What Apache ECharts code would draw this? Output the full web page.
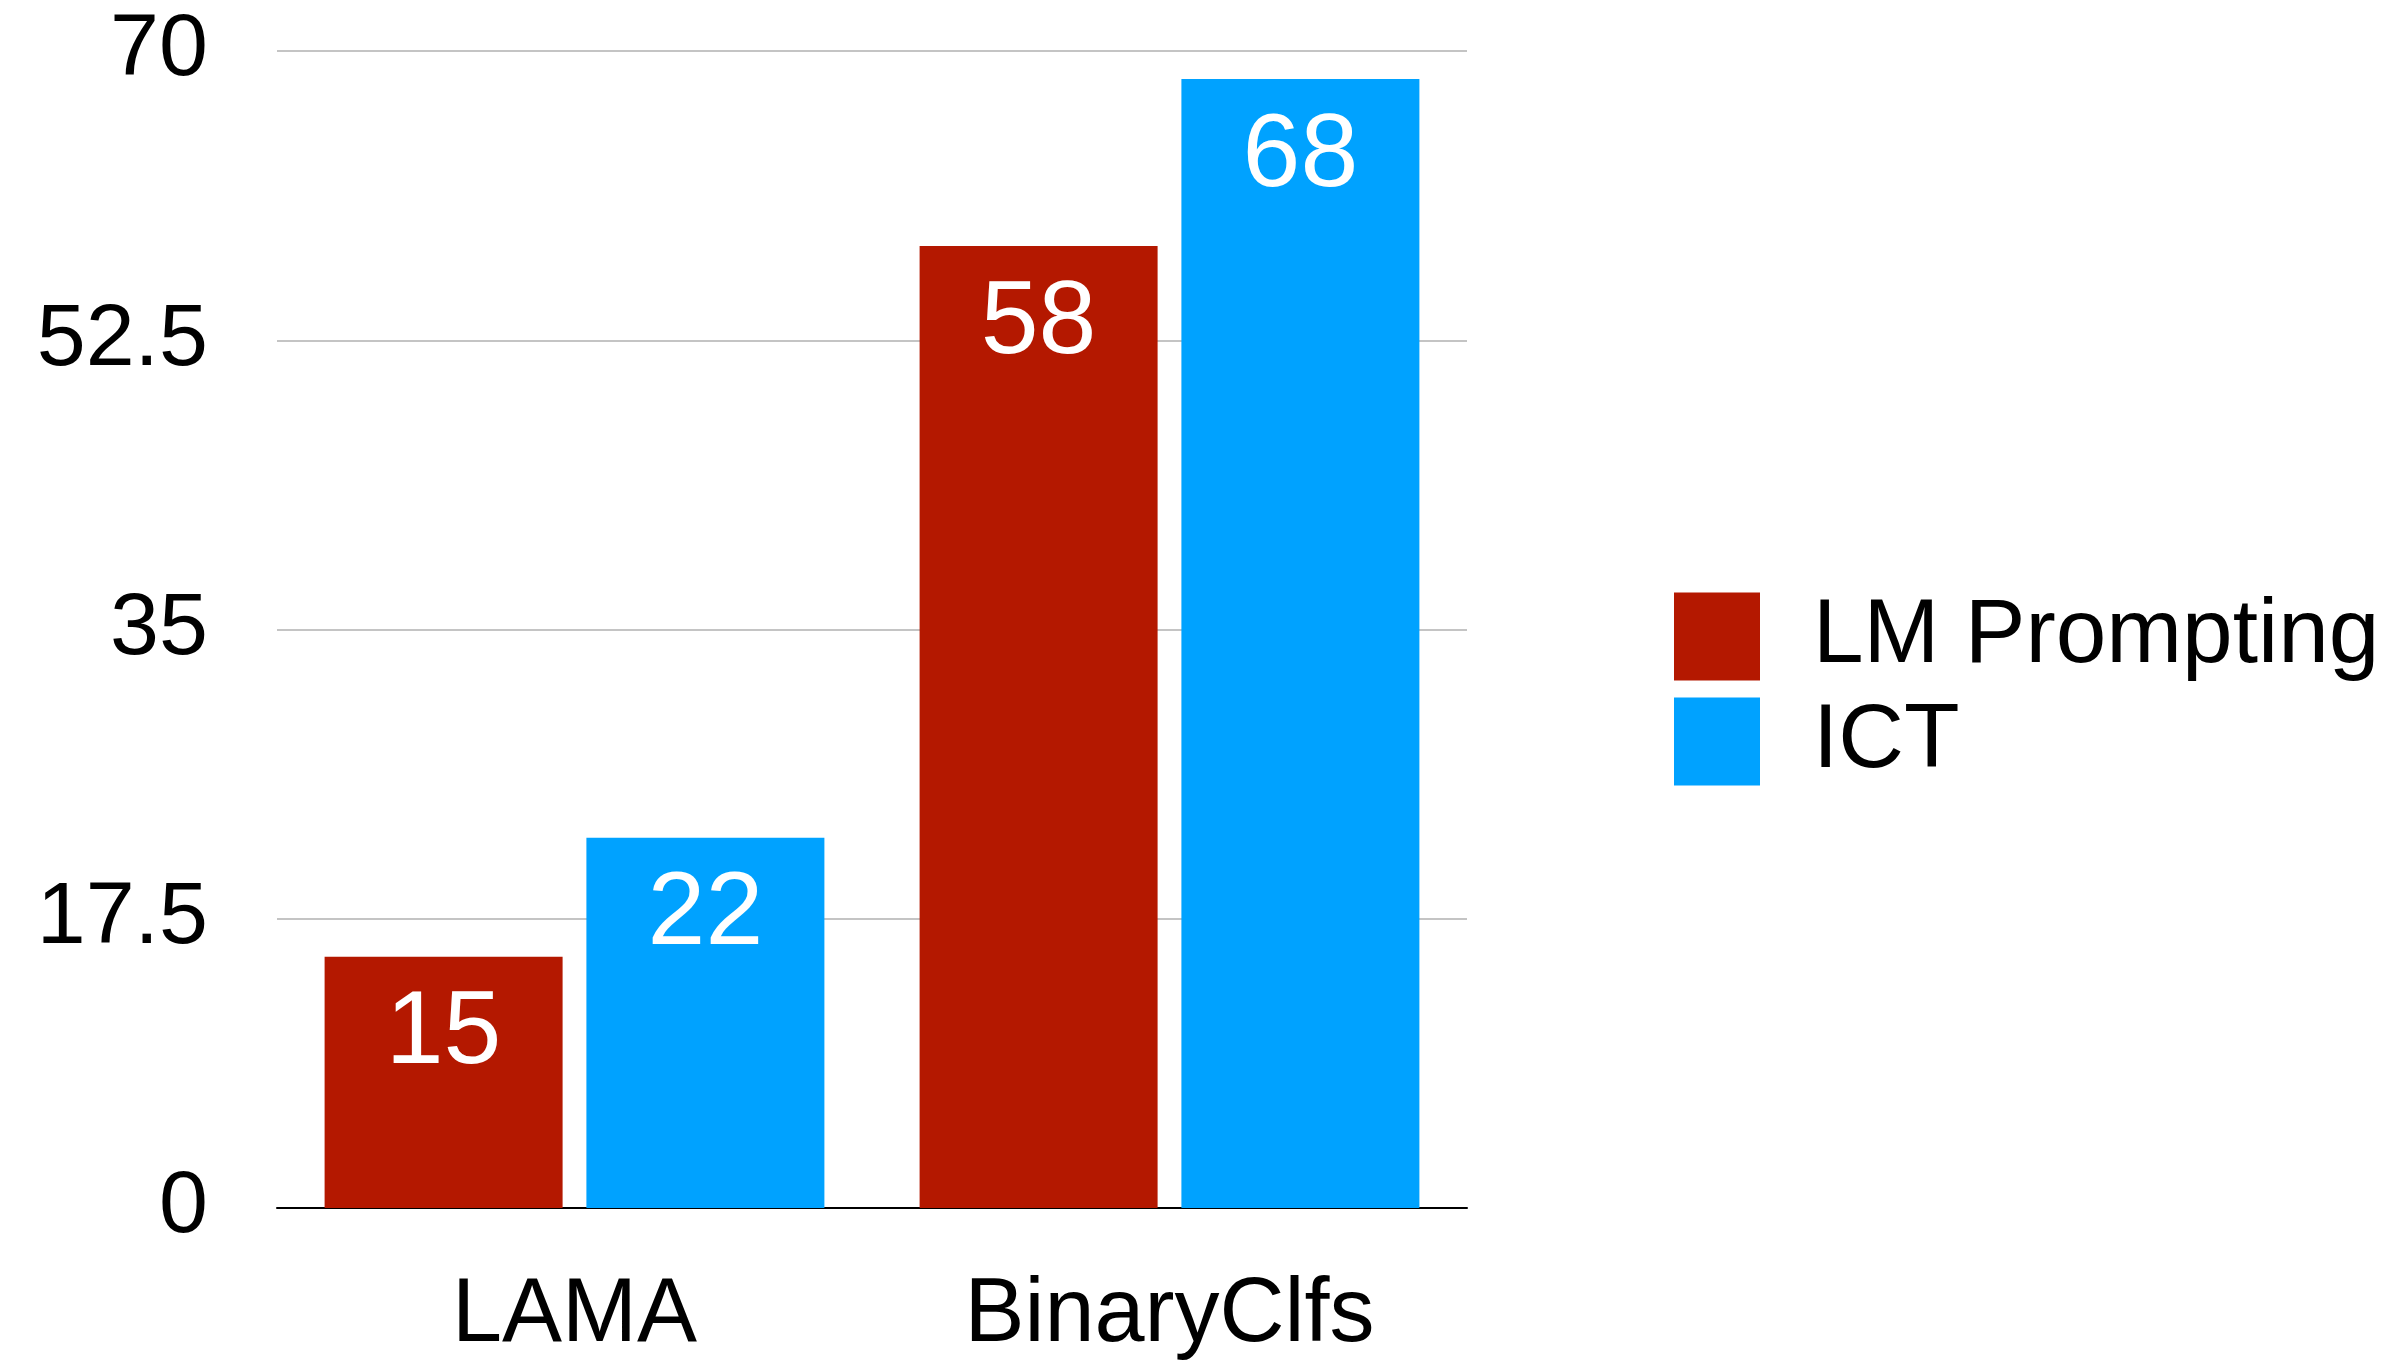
<!DOCTYPE html>
<html>
<head>
<meta charset="utf-8">
<script src="https://cdn.jsdelivr.net/npm/echarts@6/dist/echarts.min.js"></script>
<style>
  html, body { margin: 0; padding: 0; background: #ffffff; }
  #chart { width: 2408px; height: 1361px; }
</style>
</head>
<body>
<div id="chart"></div>
<script>
var categories = ['LAMA', 'BinaryClfs'];
var seriesNames = ['LM Prompting', 'ICT'];
var lmPrompting = [15.2, 58.2];
var ict = [22.4, 68.3];
var yTicks = [0, 17.5, 35, 52.5, 70];

var FONT = "'Liberation Sans', Arial, Helvetica, sans-serif";
var RED = '#B41800';
var BLUE = '#00A2FF';

var chart = echarts.init(document.getElementById('chart'), null, { renderer: 'canvas' });

function barLabel() {
  return {
    show: true,
    position: 'insideTop',
    distance: 26,
    color: '#ffffff',
    fontFamily: FONT,
    fontSize: 104,
    formatter: function (p) { return Math.round(p.value); }
  };
}

chart.setOption({
  backgroundColor: '#ffffff',
  animation: false,
  grid: { left: 277, right: 941, top: 51, bottom: 153 },
  legend: {
    orient: 'vertical',
    left: 1674,
    top: 591,
    padding: 0,
    icon: 'rect',
    itemWidth: 86,
    itemHeight: 88,
    itemGap: 14,
    textStyle: { fontFamily: FONT, fontSize: 91, color: '#000000', lineHeight: 88, padding: [0, 0, 0, 48] },
    data: seriesNames
  },
  xAxis: {
    type: 'category',
    data: categories,
    axisLine: { show: true, lineStyle: { color: '#000000', width: 2 } },
    axisTick: { show: false },
    axisLabel: { fontFamily: FONT, fontSize: 90, color: '#000000', margin: 63 }
  },
  yAxis: {
    type: 'value',
    min: yTicks[0],
    max: yTicks[yTicks.length - 1],
    interval: yTicks[1] - yTicks[0],
    axisLine: { show: false },
    axisTick: { show: false },
    splitLine: { show: true, lineStyle: { color: '#c4c4c4', width: 2 } },
    axisLabel: { fontFamily: FONT, fontSize: 88, color: '#000000', margin: 69 }
  },
  series: [
    {
      name: seriesNames[0],
      type: 'bar',
      data: lmPrompting,
      barWidth: '40%',
      barGap: '10%',
      itemStyle: { color: RED },
      label: barLabel()
    },
    {
      name: seriesNames[1],
      type: 'bar',
      data: ict,
      barWidth: '40%',
      barGap: '10%',
      itemStyle: { color: BLUE },
      label: barLabel()
    }
  ]
});
</script>
</body>
</html>
